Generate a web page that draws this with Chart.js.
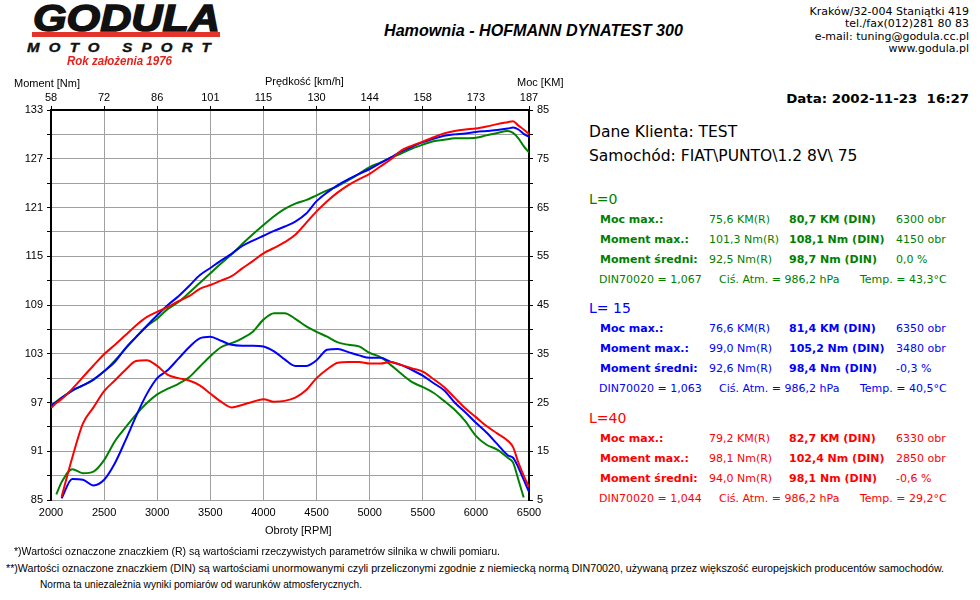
<!DOCTYPE html>
<html>
<head>
<meta charset="utf-8">
<script src="https://cdn.jsdelivr.net/npm/chart.js@4.4.0/dist/chart.umd.min.js"></script>
<style>
  body { margin: 0; background: #fff; width: 980px; height: 600px; overflow: hidden; position: relative; }
  #dyno { position: absolute; left: 0; top: 60px; }
  .bar { position: absolute; left: 32px; top: 32px; width: 188px; height: 5px; background: #e3342b; }
</style>
</head>
<body>
<canvas id="dyno" width="570" height="490"></canvas>
<div class="bar"></div>
<script>
// engine speed grid [RPM]
const rpm = [2000, 2050, 2100, 2200, 2300, 2400, 2500, 2600, 2700, 2800, 2900,
  3000, 3100, 3200, 3300, 3400, 3500, 3600, 3700, 3800, 3900,
  4000, 4100, 4200, 4300, 4400, 4500, 4600, 4700, 4800, 4900,
  5000, 5100, 5200, 5300, 5400, 5500, 5600, 5700, 5800, 5900,
  6000, 6100, 6200, 6300, 6350, 6400, 6450, 6500];

// power [KM] (right axis)
const powerL0 = [24.5, 25.2, 26.0, 27.4, 28.5, 29.7, 31.4, 33.6, 36.0, 38.4, 40.6,
  42.2, 44.2, 45.6, 47.5, 49.5, 51.5, 53.5, 55.4, 57.5, 59.5,
  61.4, 63.2, 64.7, 65.8, 66.5, 67.5, 68.5, 69.4, 70.6, 71.9,
  73.3, 74.2, 75.2, 76.1, 77.1, 77.9, 78.6, 78.9, 79.2, 79.2,
  79.3, 79.8, 80.3, 80.7, 80.3, 79.2, 77.6, 76.3];
const powerL15 = [24.3, 25.1, 25.9, 27.5, 28.5, 29.7, 31.4, 33.3, 36.1, 38.4, 40.7,
  42.9, 45.0, 46.8, 48.9, 51.1, 52.6, 54.1, 55.5, 57.1, 58.2,
  59.2, 60.2, 61.1, 62.1, 63.7, 66.3, 68.1, 69.6, 70.8, 71.9,
  72.9, 74.1, 75.3, 76.5, 77.5, 78.4, 79.1, 79.7, 80.0, 80.2,
  80.5, 80.7, 80.9, 81.2, 81.4, 81.0, 80.1, 79.5];
const powerL40 = [23.9, 24.9, 25.7, 27.8, 30.2, 32.6, 34.9, 36.8, 38.8, 40.8, 42.5,
  43.6, 44.6, 45.8, 46.8, 48.3, 49.1, 50.0, 50.9, 52.5, 54.0,
  55.6, 56.7, 57.9, 59.4, 61.8, 64.2, 66.3, 68.1, 69.6, 70.8,
  71.9, 73.4, 74.9, 76.7, 77.7, 78.5, 79.4, 80.2, 80.7, 81.0,
  81.2, 81.6, 82.1, 82.5, 82.7, 81.8, 81.0, 80.1];

// torque [Nm] (left axis)
const torqueL0 = [null, 85.7, 87.2, 88.8, 88.3, 88.5, 89.9, 92.2, 93.9, 95.5, 96.9,
  98.0, 98.7, 99.3, 100.1, 101.4, 102.7, 103.8, 104.3, 104.9, 105.7,
  107.2, 108.0, 108.0, 107.3, 106.4, 105.7, 105.1, 104.4, 104.1, 103.9,
  103.1, 102.6, 101.6, 100.5, 99.5, 98.9, 98.2, 97.2, 96.1, 94.7,
  92.9, 91.8, 91.2, 90.2, 89.6, 87.5, 85.3, null];
const torqueL15 = [null, null, 85.2, 87.6, 87.5, 86.8, 87.5, 89.5, 92.3, 95.3, 98.0,
  100.0, 101.0, 102.4, 103.8, 104.9, 105.1, 104.6, 104.1, 104.0, 104.0,
  103.9, 103.3, 102.3, 101.5, 101.5, 102.2, 103.5, 103.6, 103.2, 102.8,
  102.5, 102.5, 102.0, 101.6, 101.0, 100.3, 99.4, 98.5, 97.0, 95.8,
  94.5, 93.3, 91.9, 90.5, 90.2, 89.0, 87.5, 86.0];
const torqueL40 = [null, null, 85.4, 90.2, 94.4, 96.4, 98.4, 99.7, 101.0, 102.1, 102.2,
  101.5, 100.4, 100.0, 99.7, 99.1, 98.1, 97.1, 96.4, 96.7, 97.1,
  97.4, 97.1, 97.2, 97.6, 98.5, 100.0, 101.1, 101.9, 102.0, 102.0,
  101.8, 101.8, 102.0, 101.6, 101.2, 100.8, 99.9, 98.9, 97.6, 96.3,
  95.2, 94.1, 93.2, 92.3, 91.5, 89.6, 88.0, 86.6];

// axis tick labels
const speedLabels = ['58', '72', '86', '101', '115', '130', '144', '158', '173', '187'];
const torqueTicks = [85, 91, 97, 103, 109, 115, 121, 127, 133];
const powerTicks = [5, 15, 25, 35, 45, 55, 65, 75, 85];

const GREEN = '#008000', BLUE = '#0000ff', RED = '#ff0000';
const DV = "'DejaVu Sans', Verdana, sans-serif";
const LS = "'Liberation Sans', Arial, sans-serif";

function pts(values) {
  return rpm.map((r, i) => ({ x: r, y: values[i] }));
}

function line(values, color, axis) {
  return {
    data: pts(values), yAxisID: axis, borderColor: color, borderWidth: 2,
    pointRadius: 0, cubicInterpolationMode: 'monotone', fill: false
  };
}

const tickFont = { family: 'Liberation Sans', size: 11 };

new Chart(document.getElementById('dyno'), {
  type: 'line',
  data: {
    datasets: [
      line(powerL40, RED, 'y1'), line(torqueL40, RED, 'y'),
      line(powerL15, BLUE, 'y1'), line(torqueL15, BLUE, 'y'),
      line(powerL0, GREEN, 'y1'), line(torqueL0, GREEN, 'y')
    ]
  },
  options: {
    responsive: false,
    animation: false,
    layout: { padding: 0 },
    plugins: { legend: { display: false }, tooltip: { enabled: false } },
    scales: {
      x: {
        type: 'linear', position: 'bottom', min: 2000, max: 6500,
        ticks: { stepSize: 500, color: '#000', font: tickFont, padding: 6, callback: v => String(v) },
        grid: { color: '#a0a0a0', drawTicks: false },
        border: { display: false },
        afterFit: s => { s.height = 50; }
      },
      x2: {
        type: 'linear', position: 'top', min: 2000, max: 6500,
        ticks: { stepSize: 500, color: '#000', font: tickFont, padding: 1,
          callback: v => speedLabels[Math.round((v - 2000) / 500)] },
        grid: { drawOnChartArea: false, tickColor: '#000', tickLength: 4 },
        border: { color: '#000', width: 2 },
        afterFit: s => { s.height = 50; }
      },
      y: {
        position: 'left', min: 85, max: 133,
        ticks: { stepSize: 3, color: '#000', font: tickFont, padding: 4,
          callback: v => torqueTicks.includes(v) ? String(v) : '' },
        grid: { color: '#a0a0a0', tickColor: '#000', tickLength: 4 },
        border: { color: '#000', width: 2 },
        afterFit: s => { s.width = 51; }
      },
      y1: {
        position: 'right', min: 5, max: 85,
        ticks: { stepSize: 5, color: '#000', font: tickFont, padding: 4,
          callback: v => powerTicks.includes(v) ? String(v) : '' },
        grid: { drawOnChartArea: false, tickColor: '#000', tickLength: 4 },
        border: { color: '#000', width: 2 },
        afterFit: s => { s.width = 41; }
      }
    }
  }
});

// text placed by left (or right) edge and vertical centre
function put(txt, x, cy, font, size, color, opt) {
  opt = opt || {};
  const d = document.createElement('div');
  d.textContent = txt;
  d.style.cssText = 'position:absolute;white-space:pre;line-height:' + size + 'px;top:' + (cy - size / 2) +
    'px;font:' + (opt.style || 'normal') + ' ' + size + 'px ' + font + ';color:' + color + ';' +
    (opt.ls ? 'letter-spacing:' + opt.ls + 'px;' : '') + (opt.stroke ? '-webkit-text-stroke:' + opt.stroke + 'px ' + color + ';' : '');
  if (opt.right) d.style.right = (980 - x) + 'px'; else d.style.left = x + 'px';
  document.body.appendChild(d);
  if (opt.w) {
    const k = opt.w / d.getBoundingClientRect().width;
    d.style.transformOrigin = opt.right ? '100% 50%' : '0 50%';
    d.style.transform = 'scaleX(' + k + ')';
  }
}

// logo and header
put('GODULA', 33, 16.5, LS, 37, '#111', { style: 'italic bold', w: 187, stroke: 1.5 });
put('MOTO SPORT', 27, 46.5, LS, 13, '#111', { style: 'italic bold', ls: 8, w: 193, stroke: 0.4 });
put('Rok założenia 1976', 67, 60, LS, 12, '#e3241c', { style: 'italic bold', w: 105 });
put('Hamownia - HOFMANN DYNATEST 300', 384, 29, LS, 16.5, '#000', { style: 'italic bold', w: 299 });

put('Kraków/32-004 Staniątki 419', 969, 10, DV, 11, '#000', { right: true });
put('tel./fax(012)281 80 83', 969, 22.5, DV, 11, '#000', { right: true });
put('e-mail: tuning@godula.cc.pl', 969, 35, DV, 11, '#000', { right: true });
put('www.godula.pl', 969, 47, DV, 11, '#000', { right: true });
put('Data: 2002-11-23  16:27', 969, 98, DV, 12, '#000', { right: true, style: 'bold', w: 183 });

// axis titles
put('Moment [Nm]', 14, 82, LS, 11, '#000');
put('Prędkość [km/h]', 265, 80, LS, 11, '#000');
put('Moc [KM]', 517, 81, LS, 11, '#000');
put('Obroty [RPM]', 265, 529, LS, 11, '#000');

// client block
put('Dane Klienta: TEST', 589, 130.5, DV, 15.5, '#000');
put('Samochód: FIAT\\PUNTO\\1.2 8V\\ 75', 589, 155, DV, 15.5, '#000');

const runs = [
  { name: 'L=0', color: GREEN, top: 197.5,
    rows: [['Moc max.:', '75,6 KM(R)', '80,7 KM (DIN)', '6300 obr'],
           ['Moment max.:', '101,3 Nm(R)', '108,1 Nm (DIN)', '4150 obr'],
           ['Moment średni:', '92,5 Nm(R)', '98,7 Nm (DIN)', '0,0 %']],
    din: ['DIN70020 = 1,067', 'Ciś. Atm. = 986,2 hPa', 'Temp. = 43,3°C'] },
  { name: 'L= 15', color: BLUE, top: 307,
    rows: [['Moc max.:', '76,6 KM(R)', '81,4 KM (DIN)', '6350 obr'],
           ['Moment max.:', '99,0 Nm(R)', '105,2 Nm (DIN)', '3480 obr'],
           ['Moment średni:', '92,6 Nm(R)', '98,4 Nm (DIN)', '-0,3 %']],
    din: ['DIN70020 = 1,063', 'Ciś. Atm. = 986,2 hPa', 'Temp. = 40,5°C'] },
  { name: 'L=40', color: RED, top: 417,
    rows: [['Moc max.:', '79,2 KM(R)', '82,7 KM (DIN)', '6330 obr'],
           ['Moment max.:', '98,1 Nm(R)', '102,4 Nm (DIN)', '2850 obr'],
           ['Moment średni:', '94,0 Nm(R)', '98,1 Nm (DIN)', '-0,6 %']],
    din: ['DIN70020 = 1,044', 'Ciś. Atm. = 986,2 hPa', 'Temp. = 29,2°C'] }
];
const colX = [600, 709, 789, 896];
const dinX = [599, 719, 860];

runs.forEach(r => {
  put(r.name, 589, r.top, DV, 14, r.color);
  r.rows.forEach((row, i) => {
    const cy = r.top + 20.5 + i * 20;
    row.forEach((cell, j) => {
      put(cell, colX[j], cy, DV, 11, r.color, { style: (j === 0 || j === 2) ? 'bold' : 'normal' });
    });
  });
  r.din.forEach((cell, j) => put(cell, dinX[j], r.top + 80.5, DV, 11, r.color));
});

// footnotes
put('*)Wartości oznaczone znaczkiem (R) są wartościami rzeczywistych parametrów silnika w chwili pomiaru.',
  14, 550, LS, 10.5, '#000', { w: 486 });
put('**)Wartości oznaczone znaczkiem (DIN) są wartościami unormowanymi czyli przeliczonymi zgodnie z niemiecką normą DIN70020, używaną przez większość europejskich producentów samochodów.',
  6, 567, LS, 10.5, '#000', { w: 938 });
put('Norma ta uniezależnia wyniki pomiarów od warunków atmosferycznych.',
  40, 583, LS, 10.5, '#000', { w: 322 });
</script>
</body>
</html>
